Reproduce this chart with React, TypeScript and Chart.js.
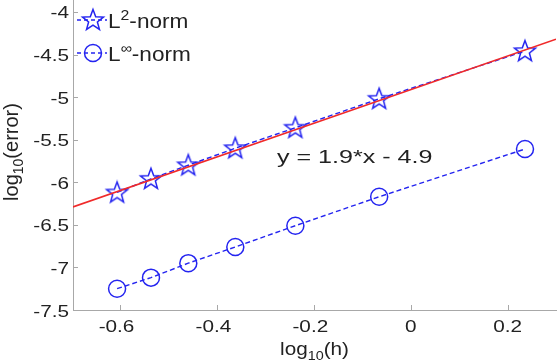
import React, { useEffect, useRef } from "react";
import { Chart, registerables } from "chart.js";

Chart.register(...registerables);

// ---- data ----
const logH = [-0.606, -0.536, -0.459, -0.362, -0.238, -0.065, 0.236];
const logErrL2 = [-6.12, -5.96, -5.8, -5.6, -5.36, -5.02, -4.46];
const logErrLinf = [-7.25, -7.12, -6.95, -6.76, -6.51, -6.17, -5.61];
const fitX = [-0.697, 0.3];
const fitY = [-6.29, -4.32];
const xTicks = [-0.6, -0.4, -0.2, 0, 0.2];
const yTicks = [-7.5, -7, -6.5, -6, -5.5, -5, -4.5, -4];
const equationText = "y = 1.9*x - 4.9";
const equationPos = { x: -0.276, y: -5.77 };
const legendEntries = [
  { base: "L", sup: "2", rest: "-norm", marker: "star" },
  { base: "L", sup: "\u221E", rest: "-norm", marker: "circle" },
];

const BLUE = "#2424f0";
const RED = "#f02a2a";
const TEXT = "#222222";
const AXIS = "#a8a8a8";
const FONT = "'Liberation Sans', Arial, Helvetica, sans-serif";

function starPath(ctx: CanvasRenderingContext2D, cx: number, cy: number, R: number, r: number) {
  ctx.beginPath();
  for (let i = 0; i < 10; i++) {
    const ang = -Math.PI / 2 + (i * Math.PI) / 5;
    const rad = i % 2 === 0 ? R : r;
    const px = cx + rad * Math.cos(ang);
    const py = cy + rad * Math.sin(ang);
    if (i === 0) ctx.moveTo(px, py);
    else ctx.lineTo(px, py);
  }
  ctx.closePath();
}

function makeStar(): HTMLCanvasElement {
  const c = document.createElement("canvas");
  c.width = 26;
  c.height = 26;
  const ctx = c.getContext("2d")!;
  ctx.strokeStyle = BLUE;
  ctx.lineWidth = 1.5;
  starPath(ctx, 13, 13.5, 11, 4.6);
  ctx.stroke();
  return c;
}

// draw text stretched horizontally (in text space) by sx
function stretchedText(
  ctx: CanvasRenderingContext2D,
  text: string,
  x: number,
  y: number,
  size: number,
  sx: number,
  align: CanvasTextAlign,
  baseline: CanvasTextBaseline
) {
  ctx.save();
  ctx.translate(x, y);
  ctx.scale(sx, 1);
  ctx.font = `${size}px ${FONT}`;
  ctx.fillStyle = TEXT;
  ctx.textAlign = align;
  ctx.textBaseline = baseline;
  ctx.fillText(text, 0, 0);
  ctx.restore();
}

// composite text base + sub/superscript + rest, starting/centered at x (text space)
function compositeText(
  ctx: CanvasRenderingContext2D,
  x: number,
  y: number,
  base: string,
  small: string,
  rest: string,
  size: number,
  smallSize: number,
  smallDy: number,
  align: "left" | "center"
) {
  ctx.font = `${size}px ${FONT}`;
  const wb = ctx.measureText(base).width;
  const wr = ctx.measureText(rest).width;
  ctx.font = `${smallSize}px ${FONT}`;
  const ws = ctx.measureText(small).width;
  const total = wb + ws + wr;
  let cx = align === "center" ? x - total / 2 : x;
  ctx.textAlign = "left";
  ctx.textBaseline = "alphabetic";
  ctx.fillStyle = TEXT;
  ctx.font = `${size}px ${FONT}`;
  ctx.fillText(base, cx, y);
  cx += wb;
  ctx.font = `${smallSize}px ${FONT}`;
  ctx.fillText(small, cx, y + smallDy);
  cx += ws;
  ctx.font = `${size}px ${FONT}`;
  ctx.fillText(rest, cx, y);
}

const fmt = (v: number) => String(Math.round(v * 10) / 10);

const decorPlugin = {
  id: "decor",
  afterDraw(chart: any) {
    const ctx: CanvasRenderingContext2D = chart.ctx;
    const area = chart.chartArea;
    const xs = chart.scales.x;
    const ys = chart.scales.y;
    ctx.save();
    // inward tick marks
    ctx.strokeStyle = AXIS;
    ctx.lineWidth = 1;
    ctx.beginPath();
    for (const v of xTicks) {
      const px = Math.round(xs.getPixelForValue(v)) + 0.5;
      ctx.moveTo(px, area.bottom);
      ctx.lineTo(px, area.bottom - 5);
    }
    for (const v of yTicks) {
      const py = Math.round(ys.getPixelForValue(v)) + 0.5;
      ctx.moveTo(area.left, py);
      ctx.lineTo(area.left + 5, py);
    }
    ctx.stroke();

    // tick labels
    const TS = 17;
    const TSX = 1.22;
    for (const v of xTicks) {
      const s = fmt(v);
      ctx.font = `${TS}px ${FONT}`;
      const shift = v < 0 ? (ctx.measureText("-").width * TSX) / 2 : 0;
      stretchedText(ctx, s, xs.getPixelForValue(v) - shift, area.bottom + 22, TS, TSX, "center", "alphabetic");
    }
    for (const v of yTicks) {
      stretchedText(ctx, fmt(v), area.left - 4, ys.getPixelForValue(v) + 6.5, TS, TSX, "right", "alphabetic");
    }

    // equation text
    stretchedText(
      ctx,
      equationText,
      xs.getPixelForValue(equationPos.x),
      ys.getPixelForValue(equationPos.y),
      19,
      1.32,
      "left",
      "alphabetic"
    );

    // x axis title
    ctx.save();
    ctx.translate((area.left + area.right) / 2, 355);
    ctx.scale(1.15, 1);
    compositeText(ctx, 0, 0, "log", "10", "(h)", 18, 12.5, 5, "center");
    ctx.restore();

    // y axis title (rotated)
    ctx.save();
    ctx.translate(18, 152);
    ctx.rotate(-Math.PI / 2);
    ctx.scale(1, 1.05);
    compositeText(ctx, 0, 0, "log", "10", "(error)", 20, 14, 5, "center");
    ctx.restore();

    // legend
    legendEntries.forEach((e, i) => {
      const cy = 20 + 33 * i;
      const mx = 93;
      ctx.strokeStyle = BLUE;
      ctx.lineWidth = 1.3;
      ctx.setLineDash([4, 3]);
      ctx.beginPath();
      ctx.moveTo(77, cy);
      ctx.lineTo(107, cy);
      ctx.stroke();
      ctx.setLineDash([]);
      ctx.lineWidth = 1.5;
      if (e.marker === "star") {
        starPath(ctx, mx, cy + 0.5, 11, 4.6);
        ctx.stroke();
      } else {
        ctx.beginPath();
        ctx.arc(mx, cy, 8.5, 0, Math.PI * 2);
        ctx.stroke();
      }
      ctx.save();
      ctx.translate(108, cy + 8);
      ctx.scale(1.13, 1);
      compositeText(ctx, 0, 0, e.base, e.sup, e.rest, 20, 14, -8, "left");
      ctx.restore();
    });
    ctx.restore();
  },
};

export default function App() {
  const ref = useRef<HTMLCanvasElement | null>(null);
  useEffect(() => {
    if (!ref.current) return;
    const star = makeStar();
    const chart = new Chart(ref.current, {
      type: "line",
      data: {
        datasets: [
          {
            label: "fit",
            data: fitX.map((x, i) => ({ x, y: fitY[i] })),
            borderColor: RED,
            borderWidth: 1.6,
            pointRadius: 0,
            fill: false,
          },
          {
            label: "L2-norm",
            data: logH.map((x, i) => ({ x, y: logErrL2[i] })),
            borderColor: BLUE,
            borderWidth: 1.4,
            borderDash: [5, 3],
            pointStyle: star as any,
            pointRadius: 11,
            fill: false,
          },
          {
            label: "Linf-norm",
            data: logH.map((x, i) => ({ x, y: logErrLinf[i] })),
            borderColor: BLUE,
            borderWidth: 1.4,
            borderDash: [5, 3],
            pointStyle: "circle",
            pointRadius: 8.5,
            pointBorderWidth: 1.5,
            pointBorderColor: BLUE,
            pointBackgroundColor: "rgba(0,0,0,0)",
            fill: false,
          },
        ],
      },
      options: {
        animation: false,
        responsive: false,
        maintainAspectRatio: false,
        layout: { autoPadding: false, padding: { top: 0, right: 2, left: 0, bottom: 0 } },
        plugins: { legend: { display: false }, tooltip: { enabled: false } },
        scales: {
          x: {
            type: "linear",
            min: -0.697,
            max: 0.3,
            grid: { display: false, drawTicks: false },
            border: { display: true, color: AXIS, width: 1 },
            afterBuildTicks: (s: any) => {
              s.ticks = xTicks.map((v) => ({ value: v }));
            },
            afterFit: (s: any) => {
              s.height = 53;
            },
            ticks: { display: false },
          },
          y: {
            type: "linear",
            min: -7.5,
            max: -3.86,
            grid: { display: false, drawTicks: false },
            border: { display: true, color: AXIS, width: 1 },
            afterBuildTicks: (s: any) => {
              s.ticks = yTicks.map((v) => ({ value: v }));
            },
            afterFit: (s: any) => {
              s.width = 73;
            },
            ticks: { display: false },
          },
        },
      },
      plugins: [decorPlugin],
    });
    return () => chart.destroy();
  }, []);
  return (
    <div style={{ position: "fixed", left: 0, top: 0, width: 558, height: 363, background: "#fff" }}>
      <canvas ref={ref} width={558} height={363} style={{ display: "block", width: 558, height: 363 }} />
    </div>
  );
}
